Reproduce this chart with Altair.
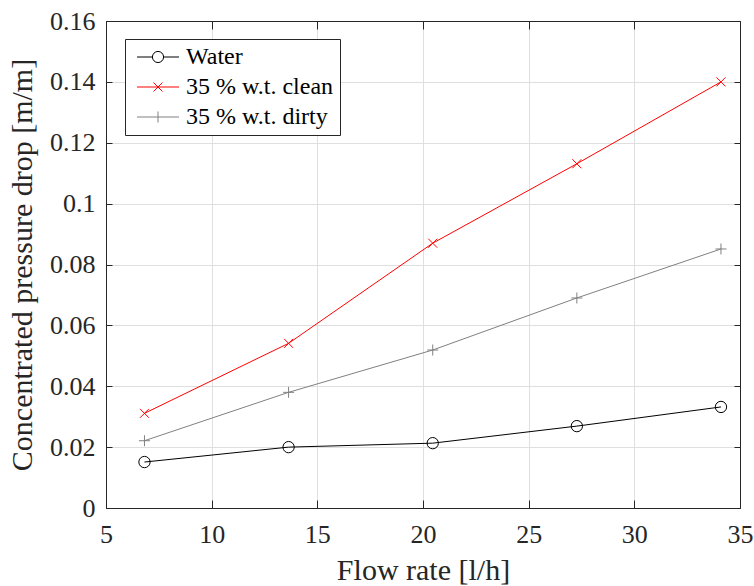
import altair as alt
import pandas as pd

flow = [6.82, 13.64, 20.46, 27.28, 34.1]
water = [0.0151, 0.0200, 0.0213, 0.0269, 0.0332]
clean = [0.0311, 0.0541, 0.0870, 0.1131, 0.1400]
dirty = [0.0221, 0.0380, 0.0519, 0.0690, 0.0851]
series_names = ["Water", "35 % w.t. clean", "35 % w.t. dirty"]
series_colors = ["#000000", "#ff0000", "#808080"]
x_ticks = [5, 10, 15, 20, 25, 30, 35]
y_ticks = [0, 0.02, 0.04, 0.06, 0.08, 0.1, 0.12, 0.14, 0.16]

rows = []
for name, vals in zip(series_names, [water, clean, dirty]):
    for f, v in zip(flow, vals):
        rows.append({"flow": f, "dp": v, "series": name})
df = pd.DataFrame(rows)

W, H = 634, 487
FONT = "Liberation Serif"
TXT = "#262626"
GRID = "#dfdfdf"
XTICK, YTICK = 8, 6

xscale = alt.Scale(domain=[5, 35], nice=False, zero=False)
yscale = alt.Scale(domain=[0, 0.16], nice=False)
cscale = alt.Scale(domain=series_names, range=series_colors)

# labels, titles, grid and the bottom/left border
ax_x_main = alt.Axis(orient="bottom", values=x_ticks, ticks=False, domain=True,
                     domainColor=TXT, grid=True, gridColor=GRID, labelFont=FONT,
                     labelFontSize=26, labelColor=TXT, labelPadding=13,
                     labelFlush=False, labelOverlap=False,
                     title="Flow rate [l/h]", titleFont=FONT, titleFontSize=30,
                     titleFontWeight="normal", titleColor=TXT, titlePadding=8)
ax_y_main = alt.Axis(orient="left", values=y_ticks, ticks=False, domain=True,
                     domainColor=TXT, grid=True, gridColor=GRID, labelFont=FONT,
                     labelFontSize=26, labelColor=TXT, labelPadding=11,
                     labelFlush=False, labelOverlap=False, format=".2~f",
                     title="Concentrated pressure drop [m/m]", titleFont=FONT,
                     titleFontSize=30, titleFontWeight="normal", titleColor=TXT,
                     titlePadding=12)
# inward ticks on the bottom and left edges (axis pulled inside by its tick length)
ax_x_in = alt.Axis(orient="bottom", offset=-XTICK, values=x_ticks, ticks=True,
                   tickSize=XTICK, tickColor=TXT, domain=False, grid=False,
                   labels=False, title=None, zindex=2)
ax_y_in = alt.Axis(orient="left", offset=-YTICK, values=y_ticks, ticks=True,
                   tickSize=YTICK, tickColor=TXT, domain=False, grid=False,
                   labels=False, title=None, zindex=2)
# top and right border with inward ticks
ax_x_top = alt.Axis(orient="bottom", offset=-H, values=x_ticks, ticks=True, tickSize=XTICK,
                    tickColor=TXT, domain=True, domainColor=TXT, grid=False,
                    labels=False, title=None, zindex=2)
ax_y_right = alt.Axis(orient="left", offset=-W, values=y_ticks, ticks=True, tickSize=YTICK,
                      tickColor=TXT, domain=True, domainColor=TXT, grid=False,
                      labels=False, title=None, zindex=2)

base = alt.Chart(df)


def line_layer(name, color, xaxis, yaxis):
    return base.transform_filter(alt.datum.series == name).mark_line(
        strokeWidth=1, color=color).encode(
        x=alt.X("flow:Q", scale=xscale, axis=xaxis),
        y=alt.Y("dp:Q", scale=yscale, axis=yaxis),
    )


def point_layer(name, color, shape, size):
    return base.transform_filter(alt.datum.series == name).mark_point(
        shape=shape, size=size, filled=False, strokeWidth=1, opacity=1, color=color
    ).encode(
        x=alt.X("flow:Q", scale=xscale, axis=None),
        y=alt.Y("dp:Q", scale=yscale, axis=None),
    )


lines = [
    line_layer(series_names[0], series_colors[0], ax_x_main, ax_y_main),
    line_layer(series_names[1], series_colors[1], ax_x_in, ax_y_in),
    line_layer(series_names[2], series_colors[2], ax_x_top, ax_y_right),
]
points = [
    point_layer(series_names[0], series_colors[0], "circle", 128),
    point_layer(series_names[1], series_colors[1], "M-1,-1L1,1M-1,1L1,-1", 81),
    point_layer(series_names[2], series_colors[2], "M-1,0L1,0M0,-1L0,1", 121),
]

# legend symbols: a short line with its marker (1 unit = 6 px at symbolSize 144)
legend_shapes = [
    "M-1,0L1.57,0M3.43,0L6,0M1.57,0A0.93,0.93,0,1,0,3.43,0A0.93,0.93,0,1,0,1.57,0",
    "M-1,0L6,0M1.75,-0.75L3.25,0.75M1.75,0.75L3.25,-0.75",
    "M-1,0L6,0M2.5,-0.92L2.5,0.92",
]
leg = alt.Legend(title=None, orient="none", legendX=19, legendY=18,
                 labelFont=FONT, labelFontSize=24, labelColor="#000000",
                 labelLimit=0, labelOffset=31, symbolSize=144, symbolOpacity=1,
                 symbolStrokeWidth=1, padding=6, rowPadding=6,
                 strokeColor=TXT, fillColor="#ffffff", cornerRadius=0)
legend_layer = base.mark_point(filled=False, size=0, strokeWidth=1).encode(
    x=alt.X("flow:Q", scale=xscale, axis=None),
    y=alt.Y("dp:Q", scale=yscale, axis=None),
    color=alt.Color("series:N", scale=cscale, legend=leg),
    shape=alt.Shape("series:N", scale=alt.Scale(domain=series_names, range=legend_shapes),
                    legend=leg),
)

chart = alt.layer(*lines, *points, legend_layer).resolve_axis(
    x="independent", y="independent"
).properties(
    width=W, height=H,
    padding={"left": 106, "top": 21, "right": 14, "bottom": 78},
    autosize=alt.AutoSizeParams(type="none"),
    background="#ffffff",
).configure_view(stroke=TXT, strokeWidth=1)

chart.save("out.html", embed_options={"renderer": "svg", "actions": False})
